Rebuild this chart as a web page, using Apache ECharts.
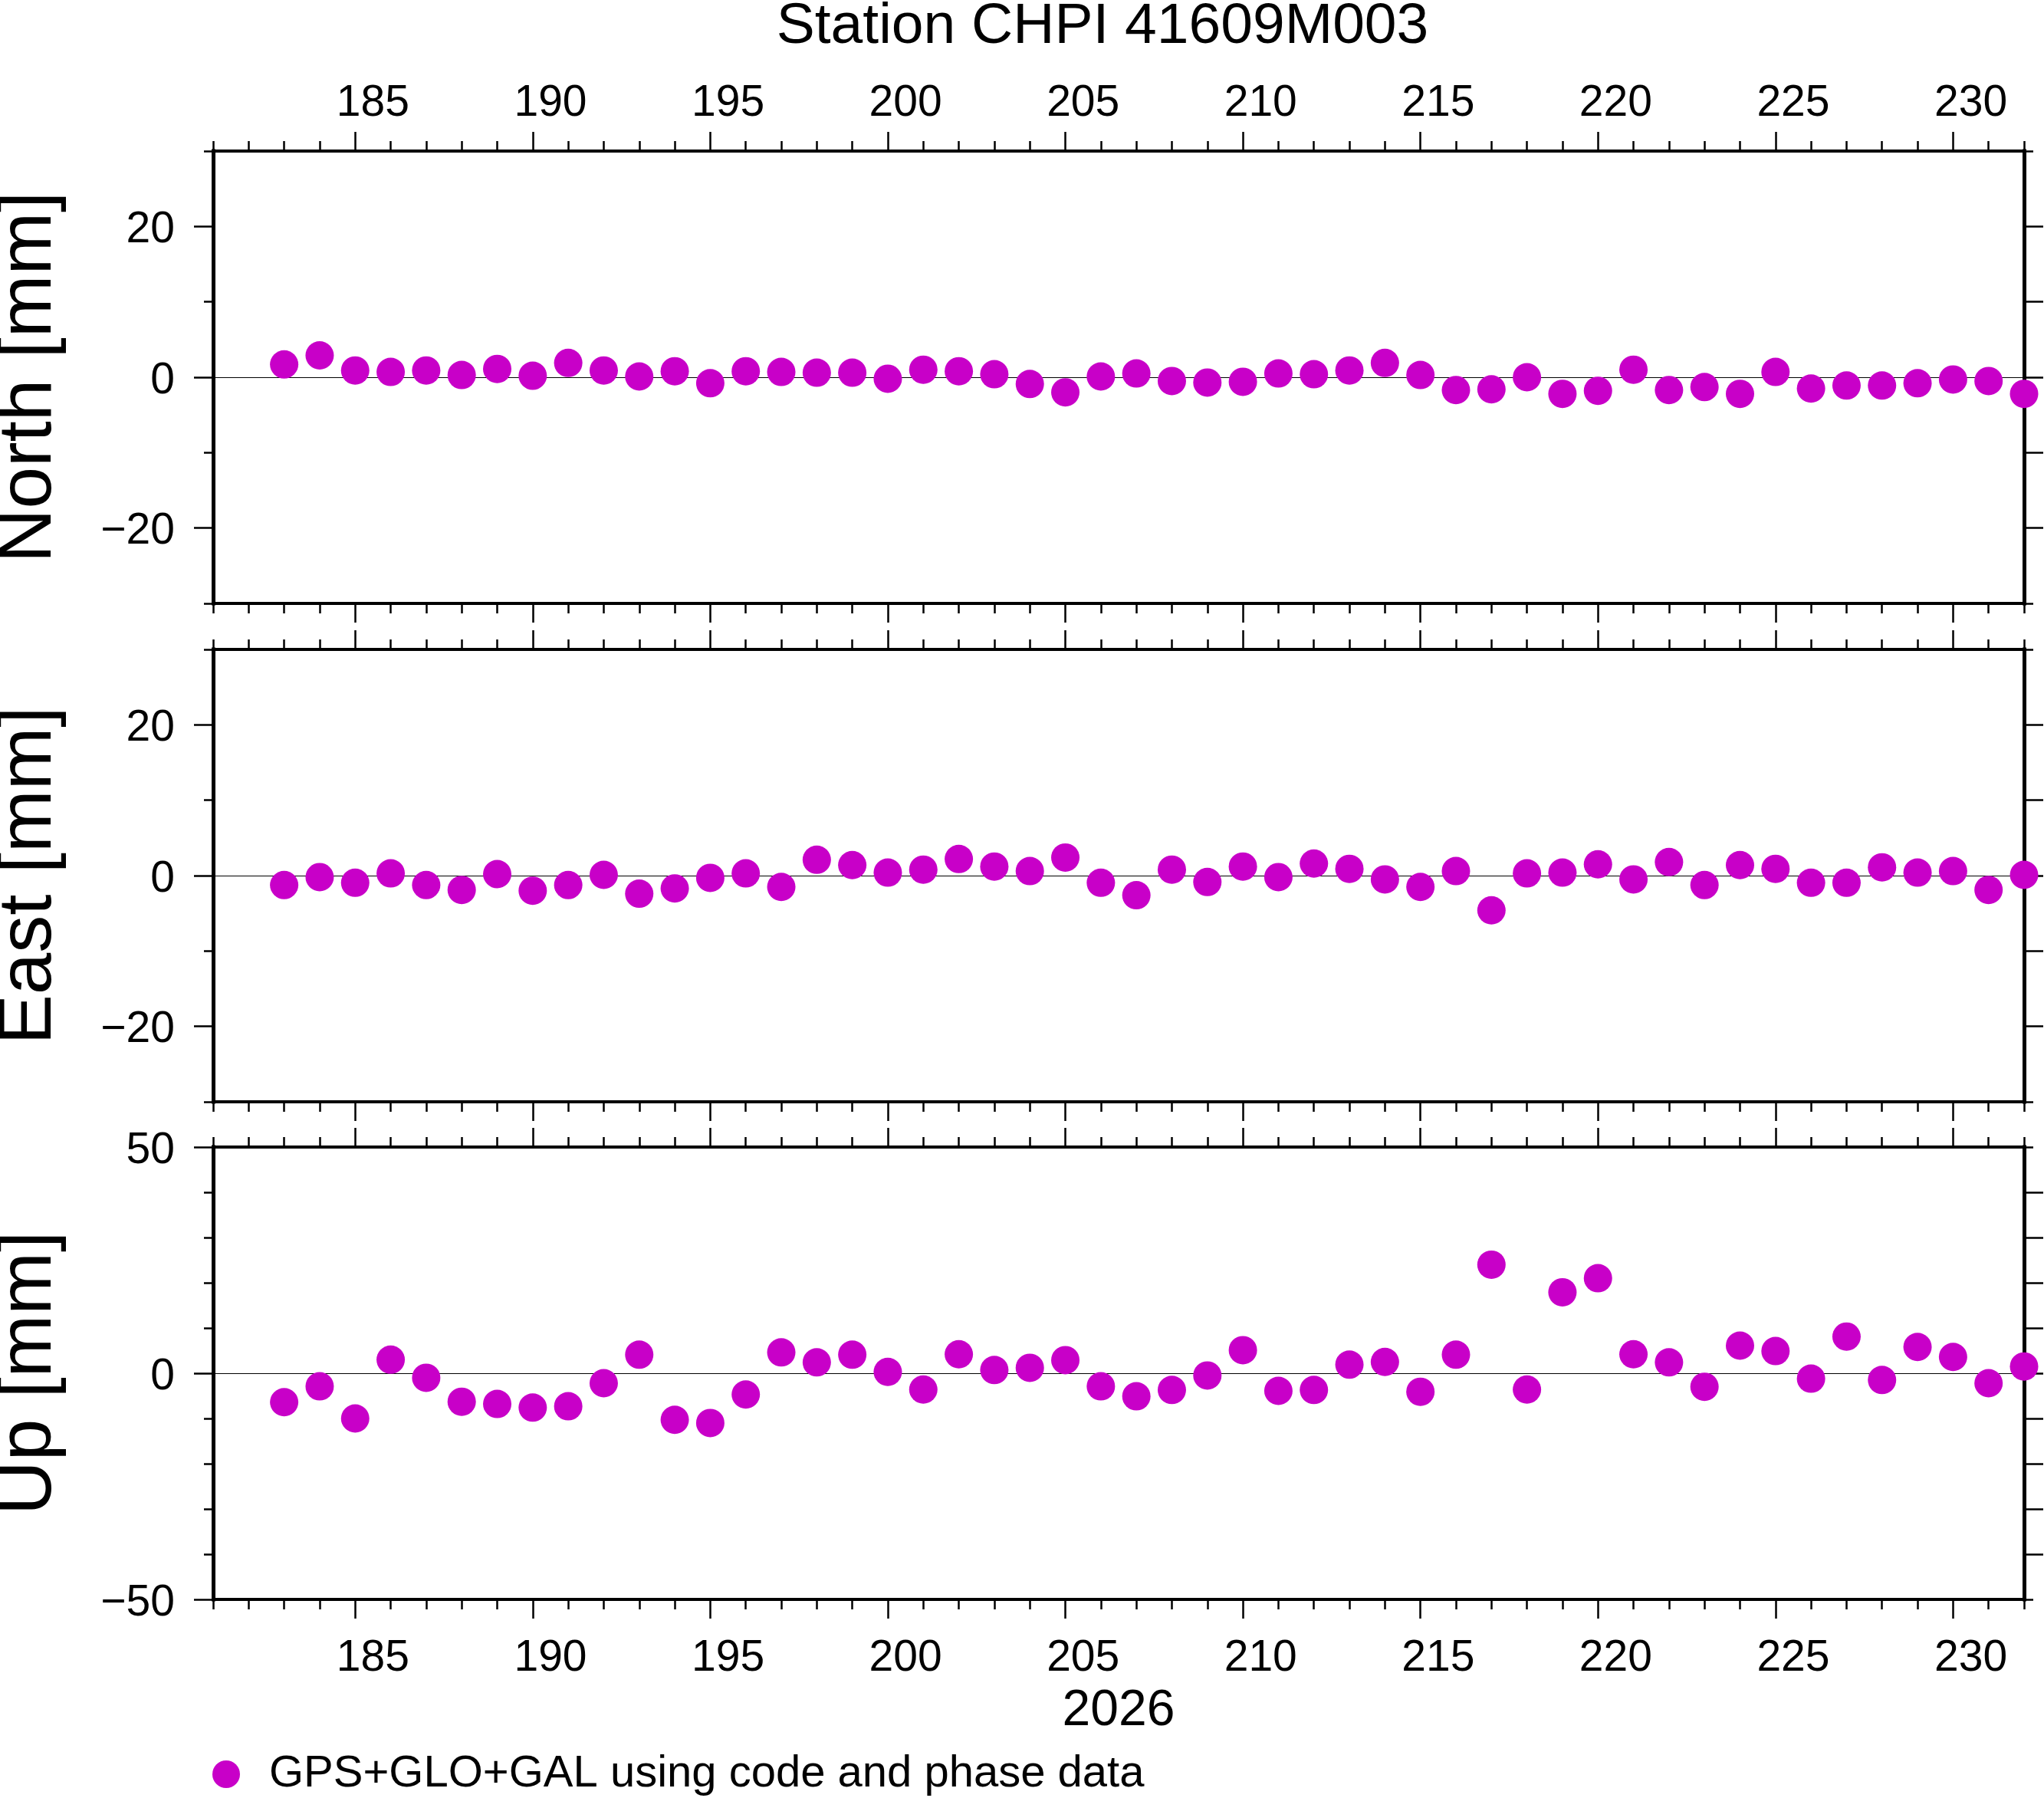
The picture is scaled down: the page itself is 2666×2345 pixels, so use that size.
<!DOCTYPE html>
<html>
<head>
<meta charset="utf-8">
<title>Station CHPI 41609M003</title>
<script src="https://cdn.jsdelivr.net/npm/echarts@6/dist/echarts.min.js"></script>
<style>
  html, body { margin: 0; padding: 0; background: #fff; }
  #chart { width: 2666px; height: 2345px; }
</style>
</head>
<body>
<div id="chart"></div>
<script>
// day of year 2026
const days = [183, 184, 185, 186, 187, 188, 189, 190, 191, 192,
              193, 194, 195, 196, 197, 198, 199, 200, 201, 202,
              203, 204, 205, 206, 207, 208, 209, 210, 211, 212,
              213, 214, 215, 216, 217, 218, 219, 220, 221, 222,
              223, 224, 225, 226, 227, 228, 229, 230, 231, 232];

const northValues = [1.7, 2.9, 0.9, 0.7, 0.9, 0.3, 1.1, 0.2, 1.9, 0.9,
                     0.1, 0.8, -0.8, 0.8, 0.7, 0.6, 0.6, -0.2, 1.0, 0.8,
                     0.4, -0.9, -2.0, 0.1, 0.5, -0.5, -0.7, -0.6, 0.5, 0.4,
                     0.9, 1.9, 0.3, -1.7, -1.6, 0.0, -2.2, -1.8, 1.0, -1.7,
                     -1.3, -2.2, 0.7, -1.5, -1.1, -1.1, -0.8, -0.3, -0.5, -2.2];

const eastValues = [-1.25, -0.2, -0.95, 0.3, -1.25, -1.9, 0.2, -2.0, -1.25, 0.1,
                    -2.4, -1.7, -0.3, 0.3, -1.5, 2.1, 1.4, 0.4, 0.8, 2.2,
                    1.2, 0.6, 2.4, -0.95, -2.6, 0.8, -0.85, 1.2, -0.2, 1.6,
                    0.9, -0.5, -1.5, 0.6, -4.6, 0.3, 0.4, 1.5, -0.5, 1.8,
                    -1.25, 1.4, 0.9, -0.95, -0.95, 1.1, 0.4, 0.6, -1.9, 0.1];

const upValues = [-6.4, -2.9, -10.0, 3.0, -1.0, -6.3, -6.8, -7.6, -7.3, -2.2,
                  4.1, -10.3, -11.0, -4.7, 4.6, 2.4, 4.1, 0.3, -3.6, 4.2,
                  0.7, 1.2, 2.9, -2.9, -5.1, -3.7, -0.5, 5.1, -3.9, -3.7,
                  1.9, 2.5, -4.1, 4.1, 24.0, -3.6, 17.9, 21.0, 4.2, 2.4,
                  -3.0, 6.1, 4.9, -1.2, 8.1, -1.5, 5.8, 3.6, -2.2, 1.5];

// axis ticks and labels
const xTickLabels = [185, 190, 195, 200, 205, 210, 215, 220, 225, 230];
const neLabelTicks = [-20, 0, 20];
const neMinorTicks = [-30, -10, 10, 30];
const neRightTicks = [-20, -10, 0, 10, 20];
const neEndTicks = [-30, 30];
const upLabelTicks = [-50, 0, 50];
const upMinorTicks = [-40, -30, -20, -10, 10, 20, 30, 40];
const upRightTicks = [-40, -30, -20, -10, 0, 10, 20, 30, 40];
const upEndTicks = [-50, 50];

const legendName = 'GPS+GLO+GAL using code and phase data';
const MAGENTA = '#c800c8';
const FONT = '"Liberation Sans", Arial, Helvetica, sans-serif';

const panels = [
  { name: 'North [mm]', values: northValues, min: -30, max: 30,
    labels: neLabelTicks, minor: neMinorTicks, right: neRightTicks, ends: neEndTicks },
  { name: 'East [mm]', values: eastValues, min: -30, max: 30,
    labels: neLabelTicks, minor: neMinorTicks, right: neRightTicks, ends: neEndTicks },
  { name: 'Up [mm]', values: upValues, min: -50, max: 50,
    labels: upLabelTicks, minor: upMinorTicks, right: upRightTicks, ends: upEndTicks }
];

const GRID_LEFT = 278;
const GRID_WIDTH = 2362;
const GRID_HEIGHT = 590;
const gridTops = [197, 847, 1496];

const tickStyle = { color: '#000', width: 2.5 };
const minus = v => String(v).replace('-', '\u2212');

function xAxes(gi, position, withLabels) {
  const minorAxis = {
    type: 'value', gridIndex: gi, position: position,
    min: 181, max: 232, interval: 1,
    axisLine: { show: true, onZero: false, lineStyle: { color: '#000', width: 4, cap: 'square' } },
    axisTick: { show: true, inside: false, length: 13, lineStyle: tickStyle },
    axisLabel: { show: false },
    splitLine: { show: false }
  };
  const majorAxis = {
    type: 'value', gridIndex: gi, position: position,
    min: 181, max: 232,
    axisLine: { show: false, onZero: false },
    axisTick: { show: true, inside: false, length: 25, customValues: xTickLabels, lineStyle: tickStyle },
    axisLabel: withLabels ? {
      show: true,
      // GMT centres day annotations inside the day
      customValues: xTickLabels.map(v => v + 0.5),
      formatter: v => String(Math.round(v - 0.5)),
      fontSize: 57, lineHeight: 57, color: '#000', fontFamily: FONT,
      margin: position === 'top' ? 33 : 49
    } : { show: false },
    splitLine: { show: false }
  };
  if (withLabels && position === 'bottom') {
    majorAxis.name = '2026';
    majorAxis.nameLocation = 'middle';
    majorAxis.nameGap = 113;
    majorAxis.nameTextStyle = { fontSize: 66, lineHeight: 66, color: '#000', fontFamily: FONT };
  }
  return [minorAxis, majorAxis];
}

function yAxes(gi, p) {
  return [
    {
      type: 'value', gridIndex: gi, position: 'left', min: p.min, max: p.max,
      axisLine: { show: true, onZero: false, lineStyle: { color: '#000', width: 5, cap: 'square' } },
      axisTick: { show: true, inside: false, length: 25, customValues: p.labels, lineStyle: tickStyle },
      axisLabel: { show: true, customValues: p.labels, formatter: minus, margin: 50,
                   verticalAlign: 'top', lineHeight: 10,
                   fontSize: 57, color: '#000', fontFamily: FONT },
      splitLine: { show: false },
      name: p.name, nameLocation: 'middle', nameRotate: 90, nameGap: 190,
      nameTextStyle: { fontSize: 98, lineHeight: 98, color: '#000', fontFamily: FONT }
    },
    {
      type: 'value', gridIndex: gi, position: 'left', min: p.min, max: p.max,
      axisLine: { show: false, onZero: false },
      axisTick: { show: true, inside: false, length: 12, customValues: p.minor, lineStyle: tickStyle },
      axisLabel: { show: false }, splitLine: { show: false }
    },
    {
      type: 'value', gridIndex: gi, position: 'right', min: p.min, max: p.max,
      axisLine: { show: true, onZero: false, lineStyle: { color: '#000', width: 5, cap: 'square' } },
      axisTick: { show: true, inside: false, length: 25, customValues: p.right, lineStyle: tickStyle },
      axisLabel: { show: false }, splitLine: { show: false }
    },
    {
      type: 'value', gridIndex: gi, position: 'right', min: p.min, max: p.max,
      axisLine: { show: false, onZero: false },
      axisTick: { show: true, inside: false, length: 12, customValues: p.ends, lineStyle: tickStyle },
      axisLabel: { show: false }, splitLine: { show: false }
    }
  ];
}

const grid = [];
const xAxis = [];
const yAxis = [];
const series = [];

panels.forEach((p, gi) => {
  grid.push({
    left: GRID_LEFT, top: gridTops[gi], width: GRID_WIDTH, height: GRID_HEIGHT,
    containLabel: false, outerBoundsMode: 'none'
  });
  xAxis.push(...xAxes(gi, 'top', gi === 0));
  xAxis.push(...xAxes(gi, 'bottom', gi === panels.length - 1));
  yAxis.push(...yAxes(gi, p));
  series.push({
    name: legendName,
    type: 'scatter',
    xAxisIndex: gi * 4,
    yAxisIndex: gi * 4,
    data: days.map((d, k) => [d, p.values[k]]),
    symbol: 'circle',
    symbolSize: 37,
    itemStyle: { color: MAGENTA, opacity: 1 },
    z: 3,
    markLine: {
      silent: true,
      z: 1,
      symbol: ['none', 'none'],
      label: { show: false },
      lineStyle: { color: '#000', width: 1.2, type: 'solid' },
      emphasis: { disabled: true },
      data: [{ yAxis: 0 }]
    }
  });
});

const chart = echarts.init(document.getElementById('chart'));
chart.setOption({
  animation: false,
  backgroundColor: '#fff',
  textStyle: { fontFamily: FONT },
  title: {
    text: 'Station CHPI 41609M003',
    left: 1438, top: -2, padding: 0,
    textAlign: 'center',
    textStyle: { fontSize: 75, lineHeight: 75, fontWeight: 'normal', color: '#000', fontFamily: FONT }
  },
  legend: {
    data: [legendName],
    left: 277, top: 2285, padding: 0,
    icon: 'circle', itemWidth: 36, itemHeight: 36,
    selectedMode: false,
    textStyle: { fontSize: 58, lineHeight: 58, color: '#000', fontFamily: FONT, padding: [0, 0, 0, 33] }
  },
  grid: grid,
  xAxis: xAxis,
  yAxis: yAxis,
  series: series
});
</script>
</body>
</html>
